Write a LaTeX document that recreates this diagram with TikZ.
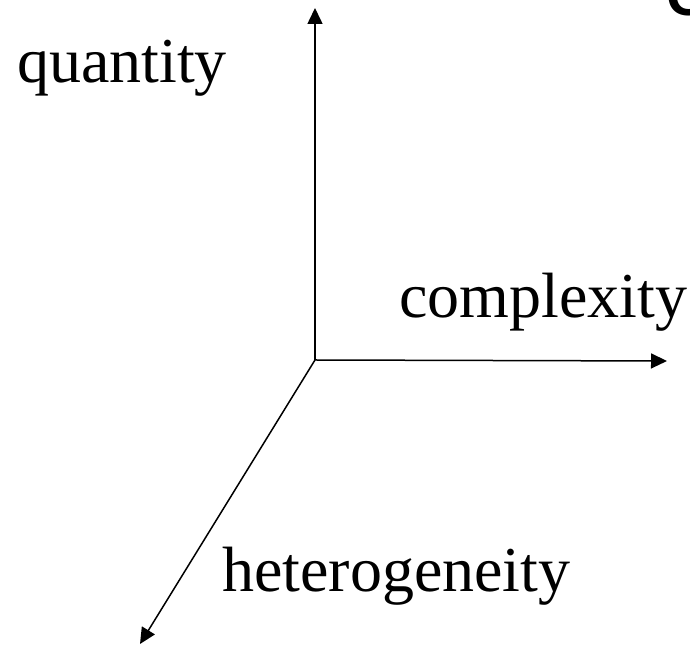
\documentclass[tikz,border=0pt]{standalone}
\usepackage{fontspec}
\setmainfont{Liberation Serif}
\newfontfamily\titlefont{Liberation Sans}
\usetikzlibrary{arrows.meta}
\tikzset{
  axis/.style={line width=1.5bp, -{Triangle[length=16bp,width=15bp]}},
  axislabel/.style={anchor=base west, inner sep=0pt, font=\fontsize{64bp}{70bp}\selectfont},
}
\begin{document}
\begin{tikzpicture}[x=1bp,y=1bp]
\useasboundingbox (0,0) rectangle (690,648);
\coordinate (o) at (315,288);
\coordinate (top) at (315,640);
\coordinate (right) at (667,287);
\coordinate (diag) at (140,4);
\draw[axis] (o) -- (top);
\draw[axis] (o) -- (right);
\draw[axis] (o) -- (diag);
\node[axislabel] (q) at (17,565) {quantity};
\node[axislabel] (c) at (399,330) {complexity};
\node[axislabel] (h) at (222,56) {heterogeneity};
\node[anchor=base west, inner sep=0pt, font=\titlefont\bfseries\fontsize{58bp}{70bp}\selectfont] (t) at (666,632) {C};
\end{tikzpicture}
\end{document}
